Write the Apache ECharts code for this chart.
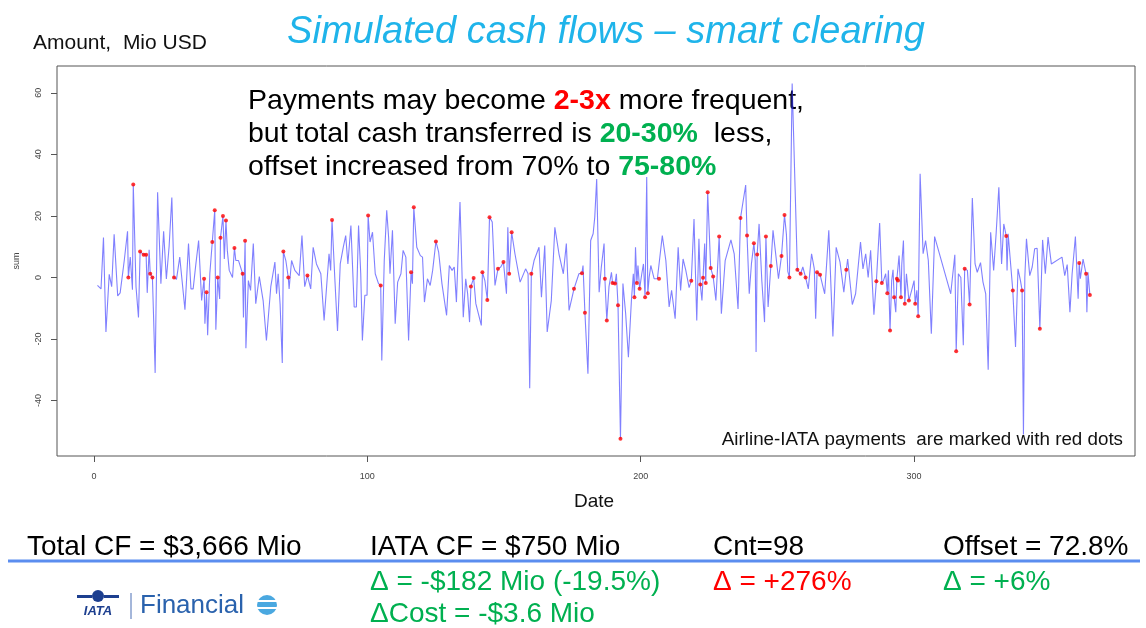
<!DOCTYPE html>
<html>
<head>
<meta charset="utf-8">
<script src="https://cdn.jsdelivr.net/npm/echarts@6/dist/echarts.min.js"></script>
<style>
html,body{margin:0;padding:0;background:#fff;}
#chart{width:1146px;height:628px;}
</style>
</head>
<body>
<div id="chart"></div>
<script>
// Daily simulated cash flow (day of year, Mio USD) - line vertices
const days = [1.3,2.6,3.5,4.4,5.6,6.5,7.4,8.7,9.6,11.1,12.3,13.3,14.1,15.4,16.3,17.4,19.5,20.2,21.8,22.4,23.3,24.5,25.5,26.5,27.5,28.5,30.2,31.4,33.3,
34.6,35.5,36.3,37.3,38.3,39.4,40.6,41.6,42.4,44.6,46.0,47.7,48.8,49.5,50.7,51.9,52.9,54.7,55.6,56.5,57.3,58.3,59.2,60.5,61.9,63.1,64.7,66.2,66.8,67.4,68.1,68.9,70.2,
71.4,72.3,73.5,75.1,76.1,77.1,79.3,80.2,81.4,83,84.2,86,86.6,88.1,89.1,90.1,91.2,92.1,92.9,94,95.2,96,96.8,97.6,98.2,99.1,99.9,101,101.9,102.9,104.1,105.3,106.2,107.1,
107.8,108.3,109.2,110.2,111.1,112.3,113.1,114.1,115.1,116.5,118.1,119.4,120.2,120.9,122,123,123.9,126.1,127.3,129,130,131,131.8,132.6,133.9,135.1,136,136.7,137.4,139.7,141.7,143,
145.7,146.7,148.8,150.9,151.4,154,155.9,157.9,158.8,159.4,161,162.8,163.7,164.9,165.8,167.3,168.6,170.1,171.7,172.8,173.8,177.4,178.9,180.7,181.7,
182.6,183.2,183.9,184.8,185.6,186.6,188.4,189.3,191.1,193.5,194.5,195.5,196.6,197.3,198.1,199.0,200.4,201.0,202.2,203.1,203.7,204.9,206.1,207.9,209.2,210.4,211.3,212.6,213.7,214.6,215.5,216.5,217.7,
219.5,220.5,221.3,222.4,223.4,227.5,229.5,230.9,233,234.2,235.6,237.5,238.4,239.7,240.5,241.9,242.2,243.3,244.3,245.3,246.6,248.4,250.4,253.3,253.8,
255.4,256.7,259.3,261.3,262.5,263.5,264.0,267.3,268.8,270.3,271.5,272.9,274.3,275.7,277.4,278.6,279.3,280.4,281.3,282.3,283.2,284.1,285.3,287.4,288.8,
289.6,290.6,291.8,292.3,293.3,294.5,295.5,296.1,297.2,299.1,300.0,301.0,302.2,303.3,304.2,305.2,306.3,307.5,313.4,314.9,316.2,317.1,318,319.5,321.3,322.3,323.1,324.3,325.2,326.2,
327.1,328,329.1,330,331,332,332.8,334.0,334.4,337.1,338.0,338.9,340.0,340.5,341.1,342.3,343.2,344.1,345,347,348,349,350.2,354.1,355.1,356,357,357.8,359,360,360.8,361.8,363.2,363.6,364.1];
const amounts = [-2.6,-3.7,13,-17.7,1,-3,14,-6,-5,5.5,15,6.6,-4,-3,-13,8,-5,9,-12,-31,27.7,-2,15,-0.5,10,26,-0.6,6.6,-10.5,
11,-3.7,-3.7,4.4,12,-7.5,-15,-18.8,1.2,-17,-7,6,8.8,2.3,0,5.5,5.5,-13,-23,-1,-4.2,11,-8.5,0.3,-7.5,-20.5,-3,5,-5.3,1.2,-8.6,-27.8,5.5,
-3.7,5.5,2.3,0.6,13.6,-3,-3.7,9.8,4.4,1.2,-14,7.7,2.3,0,-17.4,4.4,9.8,13.6,4.4,16.9,-9.6,-9.6,16.9,1.2,-20.5,-5.8,-5.8,11.5,14.7,1.2,-2,-27,5.5,21.8,
13,1.2,15.3,-15,-1.5,1.2,8.8,6.6,-20.5,-2,9.8,7.1,6.6,-8,-0.4,-2.6,2.3,8.2,-2,-12.3,3.9,2.3,3.4,-8,24.5,-12.9,-0.4,-5.3,-14.5,-8.5,-15.6,-1,
18,-2.6,3.4,-5.3,16.3,7.7,-1.5,2.8,1.2,-36,5.5,9.8,-6.4,10.4,-17.7,-7.5,16.3,7.7,1.2,11,-10.7,1.2,3.9,-31.3,12,
14.2,19.6,32,-4.8,3.4,11,-3,1.7,1.2,-2,-11.8,-25.9,-7.5,1.2,9.8,3.9,1.2,4.4,32.6,0.1,3.9,-0.4,-0.4,13.6,5.5,-9.6,-4.2,-13.4,9.8,-4.2,6,2.3,-3.3,
19,-14,12.6,-7.5,11,-7.5,-11.8,5.5,12.2,7.7,-10.2,25,30,-5.3,4.4,5.5,-24.2,17.4,-1,-14.5,-9.6,15.3,-0.4,14,2,
63,21.8,3.4,-3.7,7.7,2.8,-13.4,-5.3,15.3,-19.2,9.8,5,-4.8,6,-8.8,-5.3,-5.3,11.5,2.8,7.7,0,8.8,-12.1,17.7,-1,
1.2,2.3,-1,2.5,-11.3,7.1,4.4,12,1.2,-4.2,-1,-4.2,33.7,7.7,12,5.5,-18.3,13.3,-5.3,7.4,1.2,0,-22,2.3,25.8,4.4,1.7,4.8,-1.5,-5.3,
-30,14.7,2.3,14.2,29.3,4.4,17.4,2.3,14.2,-22.6,2.8,-1,-51,0.1,12.6,0.6,3.4,9.3,9.5,12.2,1.2,13.1,4.4,6.6,0.6,4.2,-11.3,1.2,13.3,-6.9,-0.4,6,-11.3,1.7,2];

// Airline-IATA payments (red dots)
const redDays = [12.6,14.4,16.9,18.2,19.1,20.6,21.4,29.3,40.3,41.2,43.3,44.2,45.3,46.3,47.2,48.3,51.4,54.4,55.3,69.3,71.1,78.1,87.1,100.3,104.9,
116,117,125.1,137.9,138.9,142.1,143.9,144.7,147.8,149.8,151.9,152.8,160,175.6,178.5,179.6,186.9,187.6,189.7,190.6,191.7,192.6,197.7,198.6,199.6,201.6,202.6,206.7,
218.5,221.8,222.8,223.8,224.5,225.6,226.5,228.7,236.5,238.9,241.4,242.6,245.8,247.6,251.5,252.6,254.4,257.3,258.5,260.3,264.5,265.6,275.2,286.2,288.2,290.2,291.2,
292.7,293.7,294.1,295.2,296.6,298.1,300.4,301.5,315.4,318.5,320.3,333.7,336.1,339.5,346,360.4,362.9,364.3];
const redAmounts = [0,30.2,8.4,7.4,7.4,1.2,0,0,-0.4,-4.8,11.5,21.8,0,12.9,20,18.5,9.6,1.2,11.9,8.4,0,0.6,18.7,20.1,-2.6,
1.7,22.8,11.7,-2.9,-0.2,1.7,-7.3,19.6,2.8,5,1.2,14.7,1.2,-3.7,1.4,-11.5,-0.4,-14,-1.8,-2,-9,-52.4,-6.4,-1.8,-3.7,-6.4,-5.1,-0.4,
-1.1,-2.3,-0.1,-1.8,27.7,3.1,0.3,13.3,19.3,13.6,11.1,7.5,13.3,3.7,7,20.3,0,2.5,1.2,0,1.7,0.9,2.5,-1.2,-1.8,-5.1,-17.2,
-6.4,-0.4,-1,-6.4,-8.5,-7.5,-8.5,-12.6,-24,2.8,-8.8,13.5,-4.2,-4.2,-16.7,4.7,1.2,-5.7];

const xTicks = [0,100,200,300];
const yTicks = [-40,-20,0,20,40,60];

const redPts = redDays.map((d,i)=>[d, redAmounts[i]]);
const linePts = days.map((d,i)=>[d, amounts[i]]).concat(redPts).sort((a,b)=>a[0]-b[0]);

const FONT = "'Liberation Sans', Arial, sans-serif";
const chart = echarts.init(document.getElementById('chart'), null, {renderer:'canvas'});

chart.setOption({
  animation:false,
  backgroundColor:'#fff',
  grid:{left:57, top:66, right:11, bottom:172, show:true, borderColor:'#555', borderWidth:1, backgroundColor:'transparent'},
  xAxis:{
    type:'value', min:-13.5, max:380.8, position:'bottom',
    axisLine:{show:false, onZero:false},
    splitLine:{show:false},
    axisTick:{show:true, length:6, lineStyle:{color:'#555'}, customValues:xTicks},
    axisLabel:{color:'#444', fontSize:9, fontFamily:FONT, margin:16, customValues:xTicks}
  },
  yAxis:{
    type:'value', min:-58, max:68.7, position:'left',
    name:'sum', nameLocation:'middle', nameRotate:90, nameGap:36,
    nameTextStyle:{color:'#444', fontSize:9, fontFamily:FONT},
    axisLine:{show:false, onZero:false},
    splitLine:{show:false},
    axisTick:{show:true, length:6, lineStyle:{color:'#555'}, customValues:yTicks},
    axisLabel:{color:'#444', fontSize:9, fontFamily:FONT, margin:14, rotate:90, customValues:yTicks}
  },
  series:[
    {type:'line', data:linePts, symbol:'none', silent:true,
     lineStyle:{color:'rgba(50,50,255,0.62)', width:1.1}, z:2},
    {type:'scatter', data:redPts, symbol:'circle', symbolSize:4, silent:true,
     itemStyle:{color:'#ff0000'}, z:3}
  ],
  graphic:[
    {type:'text', x:606, y:32, style:{text:'Simulated cash flows – smart clearing', fill:'#1fb4ea', font:"italic 38px "+FONT, textAlign:'center', textVerticalAlign:'middle'}},
    {type:'text', x:33, y:43, style:{text:'Amount,  Mio USD', fill:'#111', font:"21px "+FONT, textAlign:'left', textVerticalAlign:'middle'}},
    {type:'text', x:248, y:85, style:{
      text:'{a|Payments may become }{r|2-3x}{a| more frequent,}\n{a|but total cash transferred is }{g|20-30%}{a|  less,}\n{a|offset increased from 70% to }{g|75-80%}',
      font:"28.5px "+FONT, fill:'#000', textAlign:'left', textVerticalAlign:'top',
      rich:{
        a:{fontSize:28.5, fontFamily:FONT, fill:'#000', color:'#000', lineHeight:33},
        r:{fontSize:28.5, fontFamily:FONT, fontWeight:'bold', fill:'#ff0000', color:'#ff0000', lineHeight:33},
        g:{fontSize:28.5, fontFamily:FONT, fontWeight:'bold', fill:'#00b050', color:'#00b050', lineHeight:33}
      }}},
    {type:'text', x:1123, y:440, style:{text:'Airline-IATA payments  are marked with red dots', fill:'#111', font:"18.8px "+FONT, textAlign:'right', textVerticalAlign:'middle'}},
    {type:'text', x:594, y:502, style:{text:'Date', fill:'#111', font:"19px "+FONT, textAlign:'center', textVerticalAlign:'middle'}},
    {type:'line', shape:{x1:8, y1:561, x2:1140, y2:561}, style:{stroke:'#5b8def', lineWidth:3}},
    {type:'text', x:27, y:547, style:{text:'Total CF = $3,666 Mio', fill:'#000', font:"28px "+FONT, textAlign:'left', textVerticalAlign:'middle'}},
    {type:'text', x:370, y:547, style:{text:'IATA CF = $750 Mio', fill:'#000', font:"28px "+FONT, textAlign:'left', textVerticalAlign:'middle'}},
    {type:'text', x:713, y:547, style:{text:'Cnt=98', fill:'#000', font:"28px "+FONT, textAlign:'left', textVerticalAlign:'middle'}},
    {type:'text', x:943, y:547, style:{text:'Offset = 72.8%', fill:'#000', font:"28px "+FONT, textAlign:'left', textVerticalAlign:'middle'}},
    {type:'text', x:370, y:582, style:{text:'Δ = -$182 Mio (-19.5%)', fill:'#00b050', font:"28px "+FONT, textAlign:'left', textVerticalAlign:'middle'}},
    {type:'text', x:713, y:582, style:{text:'Δ = +276%', fill:'#ff0000', font:"28px "+FONT, textAlign:'left', textVerticalAlign:'middle'}},
    {type:'text', x:943, y:582, style:{text:'Δ = +6%', fill:'#00b050', font:"28px "+FONT, textAlign:'left', textVerticalAlign:'middle'}},
    {type:'text', x:370, y:614, style:{text:'ΔCost = -$3.6 Mio', fill:'#00b050', font:"28px "+FONT, textAlign:'left', textVerticalAlign:'middle'}},
    // IATA Financial logo
    {type:'circle', shape:{cx:98, cy:596, r:6}, style:{fill:'#1d3f8f'}},
    {type:'rect', shape:{x:77, y:595, width:15, height:3}, style:{fill:'#1d3f8f'}},
    {type:'rect', shape:{x:104, y:595, width:15, height:3}, style:{fill:'#1d3f8f'}},
    {type:'text', x:98, y:611, style:{text:'IATA', fill:'#1d3f8f', font:"italic bold 13px "+FONT, textAlign:'center', textVerticalAlign:'middle'}},
    {type:'line', shape:{x1:131, y1:593, x2:131, y2:619}, style:{stroke:'#4a6fb5', lineWidth:1}},
    {type:'text', x:140, y:606, style:{text:'Financial', fill:'#2a62ad', font:"26px "+FONT, textAlign:'left', textVerticalAlign:'middle'}},
    {type:'circle', shape:{cx:267, cy:605, r:10}, style:{fill:'#4aa8e0'}},
    {type:'line', shape:{x1:257, y1:601, x2:277, y2:601}, style:{stroke:'#fff', lineWidth:2}},
    {type:'line', shape:{x1:257, y1:608, x2:277, y2:608}, style:{stroke:'#fff', lineWidth:2}}
  ]
});
</script>
</body>
</html>
